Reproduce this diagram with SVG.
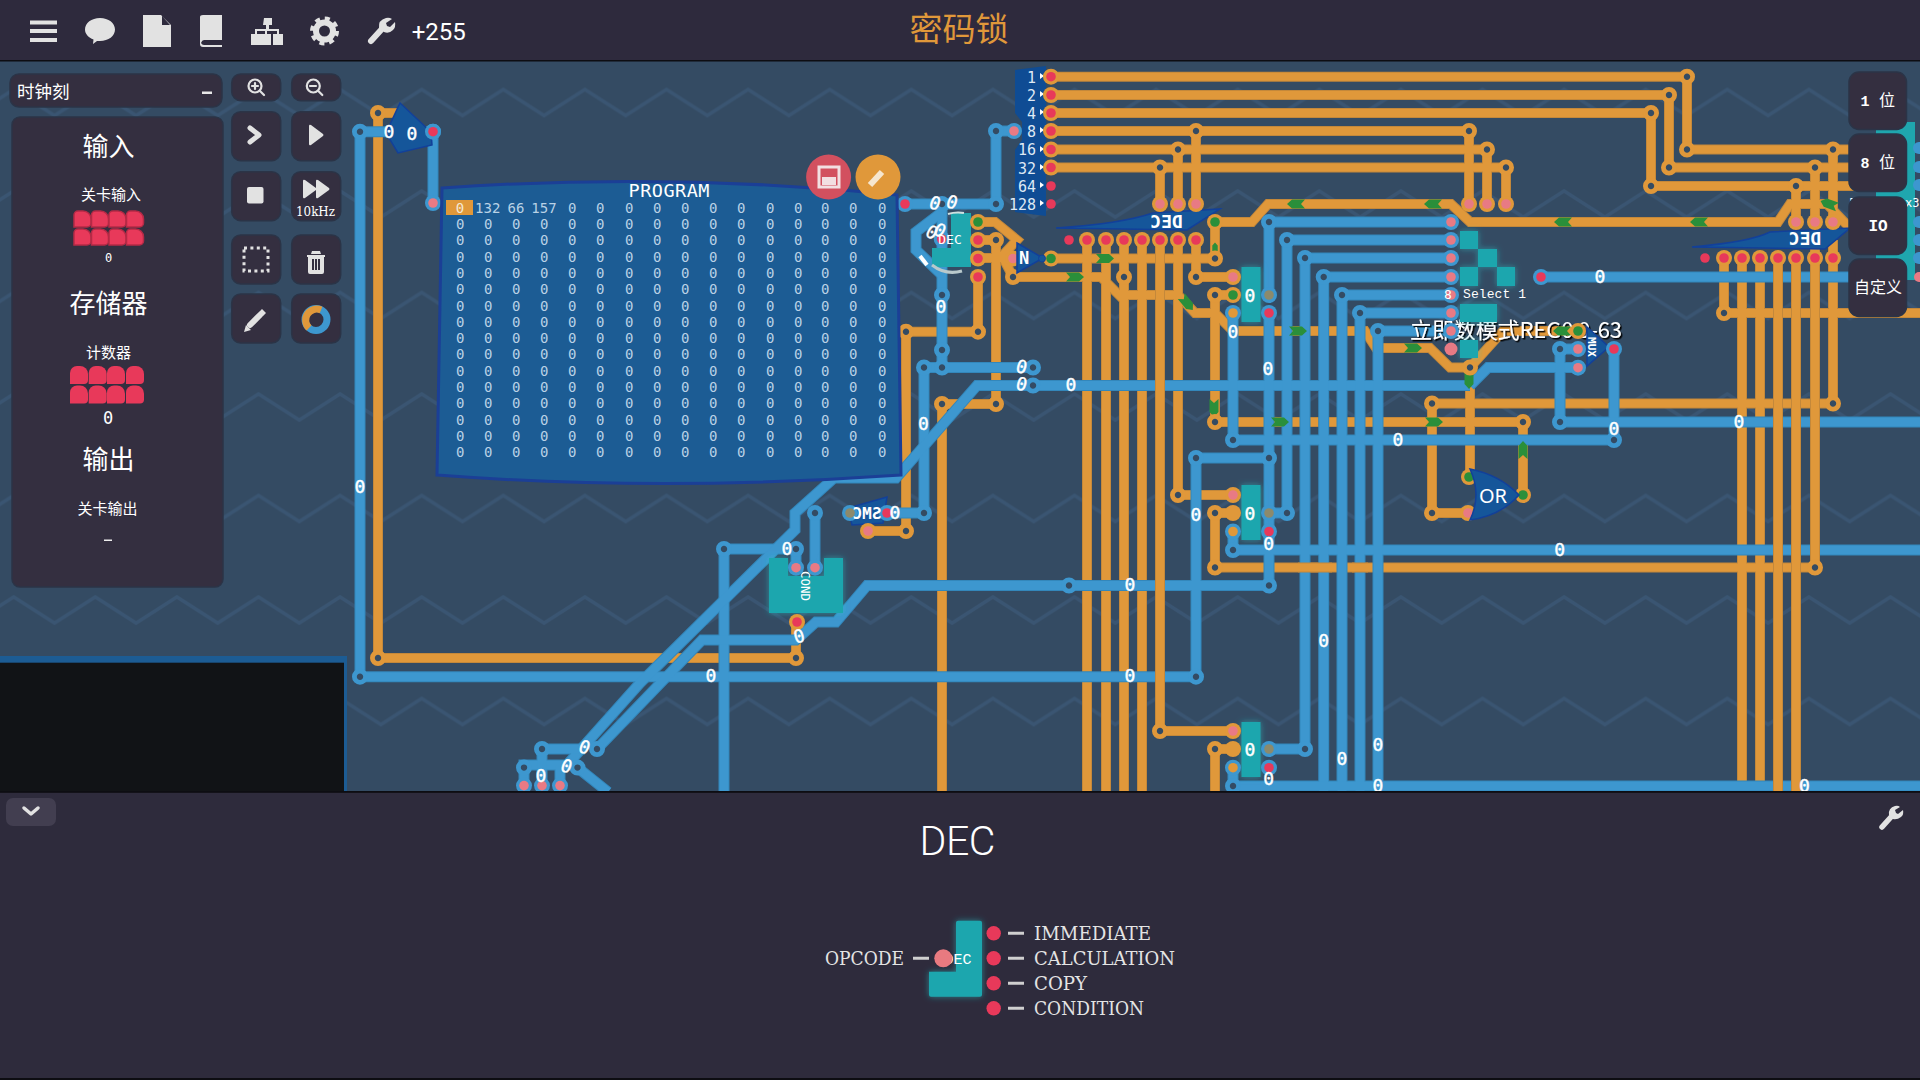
<svg xmlns="http://www.w3.org/2000/svg" width="1920" height="1080" viewBox="0 0 1920 1080">
<style>
text{font-family:"DejaVu Sans Mono","Liberation Mono",monospace;fill:#fff}
.cjk{font-family:"Noto Sans CJK SC","Noto Sans",sans-serif;text-anchor:middle}
.mid{text-anchor:middle}
.l{font-size:18px;text-anchor:middle;dominant-baseline:central;stroke:#fff;stroke-width:.4}
.p{font-size:14px;fill:#b9d2e6;dominant-baseline:central}
.sp{font-size:15px;text-anchor:end;dominant-baseline:central;fill:#dfe9f5}
.g{fill:#15569a;stroke:#12409a;stroke-width:1.5}
.t{fill:#1fa6ae}
.gl{filter:url(#glow)}
.btn{fill:#342f40;stroke:#2b3447;stroke-width:1.5}
.ic{fill:#e2e2e2}
.ics{fill:none;stroke:#e2e2e2;stroke-linecap:round;stroke-linejoin:round}
.lab{font-family:"DejaVu Serif",serif;font-size:19px;fill:#e4e4e4;dominant-baseline:central}
.w{fill:none;stroke-linejoin:miter}
</style>
<defs>
<pattern id="zig" width="81.6" height="101.5" patternUnits="userSpaceOnUse" patternTransform="translate(13.7 87.5)">
<path d="M-40.8 28L0 2L40.8 28L81.6 2L122.4 28" fill="none" stroke="#3a5572" stroke-width="3.5"/>
</pattern>
<filter id="glow" x="-40%" y="-40%" width="180%" height="180%"><feDropShadow dx="0" dy="0" stdDeviation="3" flood-color="#25c6cc" flood-opacity=".55"/></filter>
<filter id="sh" x="-5%" y="-20%" width="110%" height="140%"><feDropShadow dx="1.5" dy="1.5" stdDeviation=".4" flood-color="#000"/></filter>
<circle id="jo" r="5.6" fill="#344b63" stroke="#e0983a" stroke-width="4.8"/>
<circle id="jb" r="5.6" fill="#344b63" stroke="#3d97cf" stroke-width="4.8"/>
<g id="bp"><circle r="8" fill="#3d97cf"/><circle r="4.8" fill="#e87a84"/></g>
<g id="br"><circle r="8" fill="#3d97cf"/><circle r="4.8" fill="#e8395a"/></g>
<g id="bg"><circle r="8" fill="#3d97cf"/><circle r="4.8" fill="#8c8a6c"/></g>
<g id="bo"><circle r="8" fill="#3d97cf"/><circle r="4.8" fill="#e0983a"/></g>
<g id="or"><circle r="8" fill="#e0983a"/><circle r="4.8" fill="#e8395a"/></g>
<g id="op"><circle r="8" fill="#e0983a"/><circle r="4.8" fill="#e87a84"/></g>
<g id="og"><circle r="8" fill="#e0983a"/><circle r="4.8" fill="#2a8f3a"/></g>
<circle id="oo" r="8" fill="#e0983a"/>
<circle id="rd" r="4.8" fill="#e8395a"/>
<polygon id="ga" points="-9,-4.5 4,-4.5 9,0 4,4.5 -9,4.5 -5,0" fill="#2a8f3a"/>
<path id="d1" d="M0 17V5a4 4 0 0 1 4-4h5a8 8 0 0 1 8 8v4a4 4 0 0 1-4 4z" fill="#e8395a" stroke="#b52a46" stroke-width="1.5"/>
<path id="d2" d="M0 18V7a7 7 0 0 1 7-7h3a8 8 0 0 1 8 8v6a4 4 0 0 1-4 4z" fill="#e8395a"/>
</defs>

<rect width="1920" height="1080" fill="#344b63"/>
<rect y="62" width="1920" height="730" fill="url(#zig)"/>

<g id="connectors">
<g id="ol" class="w">
<path d="M1051 76.7H1687V149.5H1860M1051 95H1669V167.5H1860M1051 113H1651V186H1860M1051 131H1469V204M1051 149.5H1487V204M1051 167.5H1506V204M1196 131V204M1178 149.5V204M1160 167.5V204M1833 149.5V222M1815 167.5V222M1796 186V222"/>
<path d="M1051 258.5H1215V222H1252L1268 204H1451L1470 222H1778L1790 204H1827L1850 228"/>
<path d="M1087 240V792M1106 240V792M1124 240V792M1142 240V792M1178 240V495H1233M1196 240V277H1233M1124 295H1178M1015 277H1101L1124 300"/>
<path d="M1178 295L1195 313H1215L1233 331H1365L1376 348H1430L1450 367.5H1470V477M1470 367.5L1503 331H1578"/>
<path d="M1215 295H1233M1215 295V422H1523V495M1215 513V567.5H1815V240M1215 513H1233M1215 749H1233M1215 749V792"/>
<path d="M1432 403.5H1833V240M1432 403.5V513H1468M1724 258V313H1920M1742 258V792M1760 258V792"/>
<path d="M378 113H405M378 113V658H796V622"/>
<path d="M868 531H906V331.7H978V277"/>
<path d="M978 222H995L1017 240L1002 256L1013 277M978 240H996V404H942V792M978 258H1013"/>
</g>
<use href="#ol" stroke="#c4883a" stroke-width="10" fill="none"/>
<use href="#ol" stroke="#e0983a" stroke-width="8" fill="none"/>
<g id="bl" class="w">
<path d="M433 131.7V203M360 131.7H433M360 131.7V676.7H1196V458H1269"/>
<path d="M905 204H996V131H1014M942 204V367.5M924 367.5H1033M924 367.5V513H850M887 513H924"/>
<path d="M942 212L916 232V250L942 275"/>
<path d="M815 513V567.7M796 549V567.7M724 549H796M724 549V792"/>
<path d="M1470 385.5H977L896 478H834L795 513V530L640 683L567 765H524V785.6M1470 385.5L1488 367.5H1578"/>
<path d="M1269 585.5H867L836 622H816L796 640H702L597 749M542 749H585M542 749V785.6M560 766V785.6M577.5 767.6L608 792"/>
<path d="M1269 222V295M1269 313V585.5M1269 222H1451M1233 313V440H1614V349M1233 531V550H1920"/>
<path d="M1269 513H1287V240H1451M1305 258H1451M1305 258V749H1269M1323.7 277H1451M1323.7 277V792M1342 295H1451M1342 295V792M1360 313H1451M1360 313V792M1378 331H1451M1378 331V792"/>
<path d="M1233 767V786H1920M1560 349H1578M1560 349V422H1920M1541 277H1860"/>
</g>
<use href="#bl" stroke="#3387bb" stroke-width="11" fill="none"/>
<use href="#bl" stroke="#3d97cf" stroke-width="9" fill="none"/>
<g id="ot" class="w"><path d="M1160 240V731H1233M1778 258V792M1796 258V792M1815 258V567M1298 567.5H1332M1352 567.5H1368"/></g>
<use href="#ot" stroke="#c4883a" stroke-width="10" fill="none"/>
<use href="#ot" stroke="#e0983a" stroke-width="8" fill="none"/>
</g>

<text x="1410" y="338" font-size="22" style="font-family:'Noto Sans CJK SC','Noto Sans',sans-serif" filter="url(#sh)" xml:space="preserve" textLength="212">立即数模式REG0 0-63</text>
<path d="M1552 331H1578" stroke="#e0983a" stroke-width="8" fill="none"/>

<g id="arrows">
<use href="#ga" transform="translate(1296 204) rotate(180)"/><use href="#ga" transform="translate(1433 204) rotate(180)"/>
<use href="#ga" transform="translate(1563 222) rotate(180)"/><use href="#ga" transform="translate(1699 222) rotate(180)"/>
<use href="#ga" transform="translate(1829 204) rotate(200)"/><use href="#ga" transform="translate(1075 277)"/>
<use href="#ga" transform="translate(1105 258.5)"/><use href="#ga" transform="translate(1187 303) rotate(50)"/>
<use href="#ga" transform="translate(1298 331)"/><use href="#ga" transform="translate(1413 348)"/>
<use href="#ga" transform="translate(1215 248) rotate(-90) scale(.6)"/><use href="#ga" transform="translate(1214 408) rotate(90)"/>
<use href="#ga" transform="translate(1280 422)"/><use href="#ga" transform="translate(1434 422)"/>
<use href="#ga" transform="translate(1523 450) rotate(-90)"/><use href="#ga" transform="translate(1469 380) rotate(90)"/>
<use href="#ga" transform="translate(1562 331) rotate(180)"/>
</g>

<g id="splitter">
<polygon points="1015,70 1046,66 1046,216 1015,212 1015,150 1022,140 1022,122 1015,113" fill="#0f4c94"/>
<text class="sp" x="1036" y="78">1</text><text class="sp" x="1036" y="96">2</text><text class="sp" x="1036" y="114">4</text><text class="sp" x="1036" y="132">8</text><text class="sp" x="1036" y="150">16</text><text class="sp" x="1036" y="169">32</text><text class="sp" x="1036" y="187">64</text><text class="sp" x="1036" y="205">128</text>
<path d="M1040 73l4 3-4 3zM1040 91l4 3-4 3zM1040 109l4 3-4 3zM1040 127l4 3-4 3zM1040 146l4 3-4 3zM1040 164l4 3-4 3zM1040 182l4 3-4 3zM1040 200l4 3-4 3z" fill="#fff"/>
</g>

<g id="dec-selected">
<path class="t" d="M951 213H971V267H932V248H951z"/>
<path d="M948 214a34 34 0 0 1 16-1" stroke="#cfe0e0" stroke-width="2" fill="none"/>
<path d="M932 265a34 34 0 0 0 30 6" stroke="#b9c9cc" stroke-width="3" fill="none"/>
<path d="M920 256l7 9" stroke="#fff" stroke-width="4" fill="none"/>
<use href="#br" x="941.7" y="239"/>
<text x="950" y="244" class="mid" font-size="13" fill="#e8f4f4">DEC</text>
</g>

<g id="dec1">
<path class="g" d="M1056 228Q1120 224 1153 213L1220 209L1187 230z"/>
<text transform="translate(1166.5 228) scale(-1 1)" class="mid" font-size="18" font-weight="bold" fill="#dbe8f5">DEC</text>
</g>
<g id="dec2">
<path class="g" d="M1692 247Q1750 242 1770 232L1850 228L1825 249z"/>
<text transform="translate(1805 245) scale(-1 1)" class="mid" font-size="18" font-weight="bold" fill="#dbe8f5">DEC</text>
</g>

<g id="smc-body"><polygon class="g" points="887,497 883,523 852,525 848,508"/></g>
<g id="cond"><path class="t gl" d="M769 558H788V576H824V558H843V613H769z"/><text transform="translate(801 586) rotate(90)" class="mid" font-size="12.5" fill="#e8f4f4">COND</text></g>
<g id="reg1"><rect class="t gl" x="1241.5" y="267" width="19" height="55"/><text class="l" x="1250" y="295">0</text></g>
<g id="reg2"><rect class="t gl" x="1241.5" y="485" width="19" height="55"/><text class="l" x="1250" y="513">0</text></g>
<g id="reg3"><rect class="t gl" x="1241.5" y="722" width="19" height="55"/><text class="l" x="1250" y="749">0</text></g>
<g id="mux"><polygon class="g" points="1587,327 1609,347 1587,366"/><text transform="translate(1588 347) rotate(90)" class="mid" font-size="11" font-weight="bold">MUX</text></g>
<g id="select"><g class="t gl"><rect x="1460" y="231" width="18" height="18"/><rect x="1478" y="249" width="19" height="18"/><rect x="1460" y="267" width="18" height="19"/><rect x="1497" y="267" width="18" height="19"/><rect x="1460" y="304" width="37" height="18"/><rect x="1460" y="340" width="18" height="18"/></g><text x="1463" y="298" style="font-family:'Liberation Mono',monospace" font-size="13" fill="#d4dde4" textLength="63">Select 1</text></g>
<g id="chip-right"><rect class="t" x="1876" y="122" width="39" height="158"/><text x="1849" y="207" font-size="12" fill="#cfd6de">F</text><text x="1905" y="207" font-size="12" fill="#dfe6ee">x3</text></g>

<g id="junctions">
<use href="#jo" x="378" y="113"/><use href="#jo" x="378" y="658"/><use href="#jo" x="796" y="658"/><use href="#jo" x="1687" y="76.7"/><use href="#jo" x="1669" y="95"/><use href="#jo" x="1651" y="113"/><use href="#jo" x="1469" y="131"/><use href="#jo" x="1487" y="149.5"/><use href="#jo" x="1506" y="167.5"/><use href="#jo" x="1196" y="131"/><use href="#jo" x="1178" y="149.5"/><use href="#jo" x="1160" y="167.5"/><use href="#jo" x="1687" y="149.5"/><use href="#jo" x="1669" y="167.5"/><use href="#jo" x="1651" y="186"/><use href="#jo" x="1833" y="149.5"/><use href="#jo" x="1815" y="167.5"/><use href="#jo" x="1796" y="186"/><use href="#jo" x="906" y="331.7"/><use href="#jo" x="978" y="331.7"/><use href="#jo" x="906" y="531"/><use href="#jo" x="942" y="404"/><use href="#jo" x="996" y="404"/><use href="#jo" x="996" y="240"/><use href="#jo" x="1013" y="277"/><use href="#jo" x="1124" y="277"/><use href="#jo" x="1196" y="277"/><use href="#jo" x="1215" y="258.5"/><use href="#jo" x="1215" y="295"/><use href="#jo" x="1178" y="495"/><use href="#jo" x="1215" y="422"/><use href="#jo" x="1215" y="513"/><use href="#jo" x="1215" y="567.5"/><use href="#jo" x="1523" y="422"/><use href="#jo" x="1432" y="403.5"/><use href="#jo" x="1833" y="403.5"/><use href="#jo" x="1432" y="513"/><use href="#jo" x="1470" y="367.5"/><use href="#jo" x="1160" y="731"/><use href="#jo" x="1215" y="749"/><use href="#jo" x="1815" y="567.5"/><use href="#jo" x="1724" y="313"/>
<use href="#jb" x="360" y="131.7"/><use href="#jb" x="360" y="676.7"/><use href="#jb" x="1196" y="676.7"/><use href="#jb" x="1196" y="458"/><use href="#jb" x="1269" y="458"/><use href="#jb" x="1069" y="585.5"/><use href="#jb" x="1269" y="585.5"/><use href="#jb" x="942" y="204"/><use href="#jb" x="996" y="204"/><use href="#jb" x="996" y="131"/><use href="#jb" x="942" y="295"/><use href="#jb" x="942" y="350"/><use href="#jb" x="942" y="367.5"/><use href="#jb" x="924" y="367.5"/><use href="#jb" x="1033" y="367.5"/><use href="#jb" x="1033" y="385.5"/><use href="#jb" x="924" y="513"/><use href="#jb" x="815" y="513"/><use href="#jb" x="796" y="549"/><use href="#jb" x="724" y="549"/><use href="#jb" x="1233" y="440"/><use href="#jb" x="1614" y="440"/><use href="#jb" x="1233" y="550"/><use href="#jb" x="1233" y="786"/><use href="#jb" x="1287" y="513"/><use href="#jb" x="1287" y="240"/><use href="#jb" x="1269" y="222"/><use href="#jb" x="1305" y="258"/><use href="#jb" x="1323.7" y="277"/><use href="#jb" x="1342" y="295"/><use href="#jb" x="1360" y="313"/><use href="#jb" x="1378" y="331"/><use href="#jb" x="1305" y="749"/><use href="#jb" x="1560" y="349"/><use href="#jb" x="1560" y="422"/><use href="#jb" x="597" y="749"/><use href="#jb" x="577.5" y="767.6"/><use href="#jb" x="542" y="749"/><use href="#jb" x="524" y="767.6"/>
</g>

<g id="ports">
<use href="#br" x="433" y="131.7"/><use href="#bp" x="433" y="203"/><use href="#br" x="905" y="204"/><use href="#bp" x="1014" y="131"/>
<use href="#or" x="1051" y="76.7"/><use href="#or" x="1051" y="95"/><use href="#or" x="1051" y="113"/><use href="#or" x="1051" y="131"/><use href="#or" x="1051" y="149.5"/><use href="#or" x="1051" y="167.5"/><use href="#rd" x="1051" y="186"/><use href="#rd" x="1051" y="204"/>
<use href="#og" x="978" y="222"/><use href="#or" x="978" y="240"/><use href="#or" x="978" y="258.5"/><use href="#or" x="978" y="277"/><use href="#op" x="1013" y="258.5"/><use href="#og" x="1051" y="258.5"/>
<use href="#op" x="1160" y="204"/><use href="#op" x="1178" y="204"/><use href="#op" x="1196" y="204"/><use href="#og" x="1215" y="222"/>
<use href="#rd" x="1069" y="240"/><use href="#or" x="1087" y="240"/><use href="#or" x="1106" y="240"/><use href="#or" x="1124" y="240"/><use href="#or" x="1142" y="240"/><use href="#or" x="1160" y="240"/><use href="#or" x="1178" y="240"/><use href="#or" x="1196" y="240"/>
<use href="#op" x="1469" y="204"/><use href="#op" x="1487" y="204"/><use href="#op" x="1506" y="204"/>
<use href="#op" x="1796" y="222"/><use href="#op" x="1815" y="222"/><use href="#op" x="1833" y="222"/>
<use href="#rd" x="1705" y="258"/><use href="#or" x="1724" y="258"/><use href="#or" x="1742" y="258"/><use href="#or" x="1760" y="258"/><use href="#or" x="1778" y="258"/><use href="#or" x="1796" y="258"/><use href="#or" x="1815" y="258"/><use href="#or" x="1833" y="258"/>
<use href="#bg" x="850" y="513"/><use href="#br" x="887" y="513"/><use href="#op" x="868" y="531"/><use href="#bp" x="796" y="567.7"/><use href="#bp" x="815" y="567.7"/><use href="#or" x="797" y="622"/>
<use href="#op" x="1233" y="277"/><use href="#og" x="1233" y="295"/><use href="#bo" x="1233" y="313"/><use href="#bg" x="1269" y="295"/><use href="#br" x="1269" y="313"/>
<use href="#op" x="1233" y="495"/><use href="#oo" x="1233" y="513"/><use href="#bo" x="1233" y="531.5"/><use href="#bg" x="1269" y="513"/><use href="#br" x="1269" y="531.5"/>
<use href="#op" x="1233" y="731"/><use href="#oo" x="1233" y="749"/><use href="#bo" x="1233" y="767.7"/><use href="#bg" x="1269" y="749"/><use href="#br" x="1269" y="767.7"/>
<use href="#bp" x="1451" y="222"/><use href="#bp" x="1451" y="240"/><use href="#bp" x="1451" y="258"/><use href="#bp" x="1451" y="277"/><use href="#bp" x="1451" y="295"/><use href="#bp" x="1451" y="313"/><use href="#bp" x="1451" y="331"/><circle cx="1451" cy="349" r="6.5" fill="#e87a84"/>
<use href="#og" x="1469" y="477"/><use href="#op" x="1468" y="513"/><use href="#og" x="1523" y="495"/>
<use href="#og" x="1578" y="331"/><use href="#bp" x="1578" y="349"/><use href="#bp" x="1578" y="367.7"/><use href="#br" x="1614" y="349"/><use href="#br" x="1541" y="277"/>
<use href="#bp" x="524" y="785.6"/><use href="#bp" x="542" y="785.6"/><use href="#bp" x="560" y="785.6"/>
<circle cx="1919" cy="148" r="6" fill="#3d97cf"/><circle cx="1919" cy="167" r="6" fill="#3d97cf"/><circle cx="1919" cy="185" r="6" fill="#3d97cf"/><circle cx="1919" cy="222" r="6" fill="#3d97cf"/><circle cx="1919" cy="240" r="6" fill="#3d97cf"/><circle cx="1919" cy="258" r="6" fill="#3d97cf"/><circle cx="1919" cy="277" r="5" fill="#e87a84"/>
</g>

<g id="register-top">
<polygon class="g" points="400,103 431,132 432,145 398,153 386,133"/>
<use href="#br" x="433" y="131.7"/>
<text class="l" x="412" y="133">0</text>
</g>
<g id="not"><polygon class="g" points="1017,243 1043,258 1017,273"/><text x="1024" y="264" class="mid" font-size="17" font-weight="bold">N</text><circle cx="1042" cy="258.5" r="3.5" fill="#15569a" stroke="#12409a"/></g>
<g id="or-gate"><path class="g" d="M1470 469Q1500 475 1519 495Q1500 516 1470 520Q1482 495 1470 469z"/><text x="1493" y="503" class="mid" font-size="20" style="font-family:'Noto Sans',sans-serif" fill="#e8f0f8">OR</text></g>
<text transform="translate(867 519) scale(-1 1)" class="mid" font-size="16" font-weight="bold">SMC</text>

<g id="wire-labels">
<text class="l" x="360" y="486">0</text><text class="l" x="389" y="131">0</text>
<text class="l" x="935" y="203" transform="rotate(20 935 203)">0</text><text class="l" x="952" y="202" transform="rotate(20 952 202)">0</text><text class="l" x="932" y="232" transform="rotate(30 932 232)">0</text><text class="l" x="940" y="230" transform="rotate(30 940 230)">0</text>
<text class="l" x="941" y="306">0</text><text class="l" x="1021.6" y="366.7" transform="rotate(15 1021.6 366.7)">0</text><text class="l" x="1021.6" y="384" transform="rotate(15 1021.6 384)">0</text><text class="l" x="1071" y="384">0</text><text class="l" x="923.3" y="423">0</text><text class="l" x="895" y="512">0</text>
<text class="l" x="787" y="548">0</text><text class="l" x="799" y="636" transform="rotate(-15 799 636)">0</text><text class="l" x="711" y="675">0</text><text class="l" x="1130" y="584">0</text><text class="l" x="1130" y="675">0</text>
<text class="l" x="584.5" y="747" transform="rotate(20 584.5 747)">0</text><text class="l" x="566.5" y="766" transform="rotate(20 566.5 766)">0</text><text class="l" x="541" y="775">0</text>
<text class="l" x="1196" y="514">0</text><text class="l" x="1268" y="368">0</text><text class="l" x="1233" y="331">0</text><text class="l" x="1268.6" y="543">0</text><text class="l" x="1268.6" y="778">0</text>
<text class="l" x="1398" y="439">0</text><text class="l" x="1559.6" y="549">0</text><text class="l" x="1614" y="428">0</text><text class="l" x="1600" y="276">0</text><text class="l" x="1739" y="421">0</text>
<text class="l" x="1323.7" y="640">0</text><text class="l" x="1342" y="758">0</text><text class="l" x="1378" y="744">0</text><text class="l" x="1378" y="785.7">0</text><text class="l" x="1804.5" y="785">0</text>
<text x="1448" y="299" class="mid" font-size="13" fill="#f0d8dc">8</text>
</g>

<g id="program">
<path d="M442 188Q670 172 897 195L901 475Q660 492 437 475z" fill="#1c5c94" stroke="#1b3f96" stroke-width="3"/>
<rect x="446" y="200" width="27" height="15" fill="#e0983a"/>
<text x="669" y="197" class="mid" font-size="18.5" fill="#f2f6fa" textLength="81">PROGRAM</text>
<g>
<text class="p mid" x="460" y="207.7" style="fill:#f4e8d4">0</text><text class="p mid" x="487.7" y="207.7">132</text><text class="p mid" x="516" y="207.7">66</text><text class="p mid" x="544" y="207.7">157</text>
<text class="p" x="568 596 625 653 681 709 737 766 794 821 849 878" y="207.7">000000000000</text>
<text class="p" x="456 484 512 540 568 596 625 653 681 709 737 766 794 821 849 878" y="224">0000000000000000</text>
<text class="p" x="456 484 512 540 568 596 625 653 681 709 737 766 794 821 849 878" y="240.3">0000000000000000</text>
<text class="p" x="456 484 512 540 568 596 625 653 681 709 737 766 794 821 849 878" y="256.6">0000000000000000</text>
<text class="p" x="456 484 512 540 568 596 625 653 681 709 737 766 794 821 849 878" y="272.9">0000000000000000</text>
<text class="p" x="456 484 512 540 568 596 625 653 681 709 737 766 794 821 849 878" y="289.2">0000000000000000</text>
<text class="p" x="456 484 512 540 568 596 625 653 681 709 737 766 794 821 849 878" y="305.5">0000000000000000</text>
<text class="p" x="456 484 512 540 568 596 625 653 681 709 737 766 794 821 849 878" y="321.8">0000000000000000</text>
<text class="p" x="456 484 512 540 568 596 625 653 681 709 737 766 794 821 849 878" y="338.1">0000000000000000</text>
<text class="p" x="456 484 512 540 568 596 625 653 681 709 737 766 794 821 849 878" y="354.4">0000000000000000</text>
<text class="p" x="456 484 512 540 568 596 625 653 681 709 737 766 794 821 849 878" y="370.7">0000000000000000</text>
<text class="p" x="456 484 512 540 568 596 625 653 681 709 737 766 794 821 849 878" y="387">0000000000000000</text>
<text class="p" x="456 484 512 540 568 596 625 653 681 709 737 766 794 821 849 878" y="403.3">0000000000000000</text>
<text class="p" x="456 484 512 540 568 596 625 653 681 709 737 766 794 821 849 878" y="419.6">0000000000000000</text>
<text class="p" x="456 484 512 540 568 596 625 653 681 709 737 766 794 821 849 878" y="435.9">0000000000000000</text>
<text class="p" x="456 484 512 540 568 596 625 653 681 709 737 766 794 821 849 878" y="452.2">0000000000000000</text>
</g>
</g>
<g id="round-buttons">
<circle cx="828.6" cy="177" r="22.5" fill="#d2505f"/><rect x="819" y="167" width="20" height="20" fill="none" stroke="#f2dfe2" stroke-width="3"/><rect x="822" y="177" width="14" height="8" fill="#f2dfe2"/>
<circle cx="878" cy="177" r="22.5" fill="#e0983a"/><path d="M870 185l12-13" stroke="#f6e6cf" stroke-width="6" fill="none"/>
</g>

<g id="panel-black"><rect x="0" y="656" width="347" height="136" fill="#1c5c94"/><rect x="0" y="662.7" width="344" height="130" fill="#111316"/></g>

<g id="left-panel">
<rect class="btn" x="10" y="74" width="212" height="33" rx="9"/>
<text x="17" y="98" style="font-family:'Noto Sans CJK SC',sans-serif" font-size="17.5" fill="#e2e2e2">时钟刻</text>
<rect x="202" y="91.5" width="10" height="2.5" fill="#e8e8e8"/>
<rect class="btn" x="12" y="117" width="211" height="470" rx="8"/>
<text class="cjk" x="108.6" y="156" font-size="26" fill="#eee">输入</text>
<text class="cjk" x="111" y="199.5" font-size="15" fill="#bdbdbd">关卡输入</text>
<g id="input-pins"><use href="#d1" x="74" y="210"/><use href="#d1" x="91.5" y="210"/><use href="#d1" x="109" y="210"/><use href="#d1" x="126.5" y="210"/><use href="#d1" x="74" y="228"/><use href="#d1" x="91.5" y="228"/><use href="#d1" x="109" y="228"/><use href="#d1" x="126.5" y="228"/></g>
<text class="mid" x="108.6" y="262" font-size="12" fill="#ddd">0</text>
<text class="cjk" x="108.6" y="313" font-size="26" fill="#eee">存储器</text>
<text class="cjk" x="108.6" y="358" font-size="15" fill="#bdbdbd">计数器</text>
<g id="counter-pins"><use href="#d2" x="70" y="366"/><use href="#d2" x="88.7" y="366"/><use href="#d2" x="107" y="366"/><use href="#d2" x="126" y="366"/><use href="#d2" x="70" y="385.5"/><use href="#d2" x="88.7" y="385.5"/><use href="#d2" x="107" y="385.5"/><use href="#d2" x="126" y="385.5"/></g>
<text class="mid" x="108" y="424" font-size="17" fill="#ddd">0</text>
<text class="cjk" x="108.6" y="469" font-size="26" fill="#eee">输出</text>
<text class="cjk" x="107.4" y="514" font-size="15" fill="#bdbdbd">关卡输出</text>
<rect x="104" y="539.5" width="8" height="1.5" fill="#eee"/>
</g>

<g id="tools">
<rect class="btn" x="231.7" y="74" width="49" height="26.7" rx="9"/><rect class="btn" x="291.7" y="74" width="49" height="26.7" rx="9"/>
<rect class="btn" x="231.7" y="111.7" width="49" height="49" rx="9"/><rect class="btn" x="291.7" y="111.7" width="49" height="49" rx="9"/>
<rect class="btn" x="231.7" y="171.7" width="49" height="49" rx="9"/><rect class="btn" x="291.7" y="171.7" width="49" height="49" rx="9"/>
<rect class="btn" x="231.7" y="235" width="49" height="49" rx="9"/><rect class="btn" x="291.7" y="235" width="49" height="49" rx="9"/>
<rect class="btn" x="231.7" y="294" width="49" height="49" rx="9"/><rect class="btn" x="291.7" y="294" width="49" height="49" rx="9"/>
<g class="ics" stroke-width="2.2"><circle cx="255" cy="86" r="6.5"/><path d="M260 91l4 4M252 86h6M255 83v6"/><circle cx="313.3" cy="86" r="6.5"/><path d="M318.3 91l4 4M310 86h6"/></g>
<path class="ics" stroke-width="5" d="M250 128l9 7-9 7"/>
<path class="ic" d="M309 126q0-2 2-1l12 9q1 1 0 2l-12 9q-2 1-2-1z"/>
<rect class="ic" x="247" y="187" width="16.5" height="16.5" rx="2"/>
<path class="ic" d="M303 181q0-2 2-1l11 8v-7q0-2 2-1l11 8q1 1 0 2l-11 8q-2 1-2-1v-7l-11 8q-2 1-2-1z"/>
<text x="296" y="216" style="font-family:'DejaVu Serif',serif" font-size="13" fill="#e2e2e2" textLength="39" lengthAdjust="spacingAndGlyphs">10kHz</text>
<rect x="244" y="248" width="24" height="23" fill="none" stroke="#e2e2e2" stroke-width="3" stroke-dasharray="3 3.4"/>
<path class="ic" d="M307 255h18v2h-1v15q0 2-2 2h-12q-2 0-2-2v-15h-1zM312 251h8l1 3h-10zM312 259v11h2v-11zM315 259v11h2v-11zM318 259v11h2v-11z" fill-rule="evenodd"/>
<path class="ics" stroke-width="6" d="M250 325l10-10"/><path class="ic" d="M244 332l2-7 5 5zM262 309l4 4-3 3-4-4z"/>
<circle cx="316" cy="319.5" r="11" fill="none" stroke="#3d97cf" stroke-width="7"/>
<path d="M309 328a11 11 0 0 1 12-18" stroke="#e0983a" stroke-width="7" fill="none"/>
</g>

<g id="top-bar">
<rect width="1920" height="60" fill="#2e2a3d"/><rect y="60" width="1920" height="1.5" fill="#0d0d12"/>
<path class="ic" d="M30 20.5h27v4h-27zM30 29h27v4h-27zM30 38h27v4h-27z"/>
<path class="ic" d="M100 18c8.500 0 15 5 15 11.500S108.500 41 100 41l-3 0-4 3 .5-4.500c-5-2-8.500-5.500-8.500-10C85 23 91.500 18 100 18z"/>
<path class="ic" d="M143 15h18l10 10v22h-28zM162 16v9h8z" fill-rule="evenodd"/>
<path class="ic" d="M200 17q0-2 3-2h19v25h-18q-2 0-3 3 1 2 3 2h18v2h-19q-3 0-3-3z"/>
<path class="ic" d="M264 18h8v7h-3v4h10v5h4v11h-10v-11h4v-3h-10v3h4v11h-10v-11h4v-3h-8v3h4v11h-10v-11h4v-5h11v-4h-3z"/>
<circle cx="324.5" cy="31" r="8.5" fill="none" stroke="#e2e2e2" stroke-width="6"/><circle cx="324.5" cy="31" r="12.5" fill="none" stroke="#e2e2e2" stroke-width="4" stroke-dasharray="5 4.8"/>
<path class="ics" stroke-width="6" d="M371 41l10-11"/><path class="ic" d="M379 28q-1-8 7-10q3-1 6 1l-6 4 1 3 3 1 5-5q1 5-2 8q-4 4-9 2z"/>
<text x="438.8" y="40" class="mid" style="font-family:Roboto,sans-serif" font-size="24" fill="#dcdcdc">+255</text>
<text x="959" y="41" class="cjk" font-size="33" style="fill:#e0983a">密码锁</text>
</g>

<g id="right-buttons">
<rect class="btn" x="1849" y="72" width="57.5" height="57.5" rx="10"/><rect class="btn" x="1849" y="134" width="57.5" height="57.5" rx="10"/><rect class="btn" x="1849" y="197" width="57.5" height="57.5" rx="10"/><rect class="btn" x="1849" y="259" width="57.5" height="57.5" rx="10"/>
<text x="1865" y="106" class="mid" font-size="15" font-weight="bold" style="font-family:'Liberation Mono',monospace">1</text><text x="1887" y="106" class="cjk" font-size="16" fill="#ddd">位</text>
<text x="1865" y="168" class="mid" font-size="15" font-weight="bold" style="font-family:'Liberation Mono',monospace">8</text><text x="1887" y="168" class="cjk" font-size="16" fill="#ddd">位</text>
<text x="1878" y="231" class="mid" font-size="16" font-weight="bold" style="font-family:'Liberation Mono',monospace">IO</text>
<text x="1878" y="293" class="cjk" font-size="16" fill="#ddd">自定义</text>
</g>

<g id="bottom-panel">
<rect y="792" width="1920" height="288" fill="#2e2b3c"/><rect y="791" width="1920" height="1.8" fill="#0d0d12"/><rect y="1078" width="1920" height="2" fill="#0d0d12"/>
<rect x="6" y="798" width="50" height="28" rx="7" fill="#423e50"/><path class="ics" stroke-width="3.5" d="M24 808l7 6 7-6"/>
<path class="ics" stroke-width="5.5" d="M1882 827l9-10"/><path class="ic" d="M1889 815q-1-7 6-9q3-1 5 1l-5 3 1 3 2 1 5-4q1 5-2 7q-4 3-8 2z"/>
<text x="957.5" y="855" class="mid" style="font-family:Roboto,sans-serif;font-weight:300" font-size="41" textLength="76">DEC</text>
<g id="dec-legend">
<path class="t gl" d="M958 920.7h22q2 0 2 2v72q0 2-2 2h-49q-2 0-2-2v-23h27v-49q0-2 2-2z"/>
<text x="958" y="963.5" class="mid" font-size="15" style="font-family:'Liberation Mono',monospace" fill="#e8f4f4">DEC</text>
<circle cx="943.3" cy="958.3" r="9" fill="#e87a80"/>
<circle cx="993.7" cy="933.3" r="7.2" fill="#e8395a"/><circle cx="993.7" cy="958.3" r="7.2" fill="#e8395a"/><circle cx="993.7" cy="983.3" r="7.2" fill="#e8395a"/><circle cx="993.7" cy="1008.3" r="7.2" fill="#e8395a"/>
<path d="M1008 933.3h16M1008 958.3h16M1008 983.3h16M1008 1008.3h16M913 958.3h16" stroke="#cfcfcf" stroke-width="3"/>
<text class="lab" x="1034" y="933" textLength="117" lengthAdjust="spacingAndGlyphs">IMMEDIATE</text><text class="lab" x="1034" y="958" textLength="141" lengthAdjust="spacingAndGlyphs">CALCULATION</text><text class="lab" x="1034" y="983" textLength="53" lengthAdjust="spacingAndGlyphs">COPY</text><text class="lab" x="1034" y="1008" textLength="110" lengthAdjust="spacingAndGlyphs">CONDITION</text>
<text class="lab" x="825" y="958" textLength="79" lengthAdjust="spacingAndGlyphs">OPCODE</text>
</g>
</g>
</svg>
